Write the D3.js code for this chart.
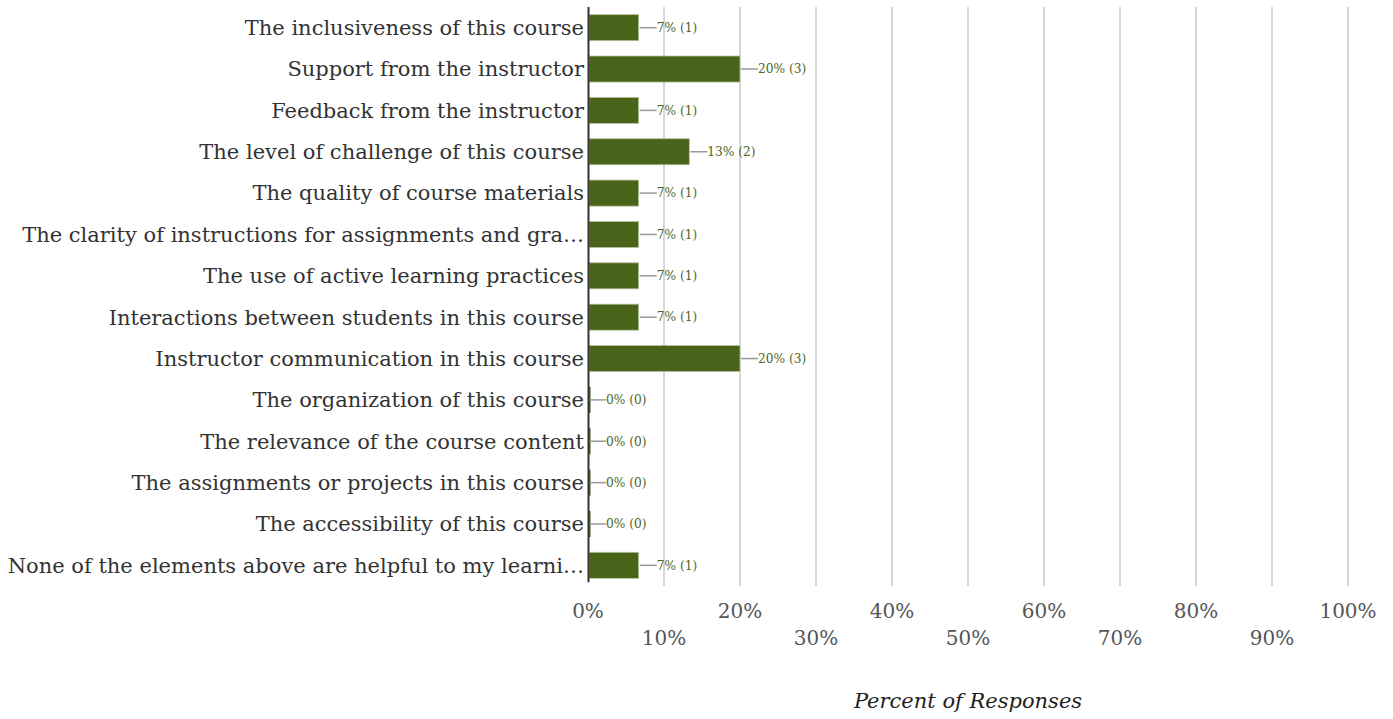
<!DOCTYPE html>
<html lang="en">
<head>
    <meta charset="UTF-8">
    <title>Percent of Responses</title>
    <script src="https://d3js.org/d3.v7.min.js"></script>
    <style>
        body { margin: 0; background: #fff; }
        text { font-family: "DejaVu Serif", serif; }
    </style>
</head>
<body>
    <div id="chart-container"></div>
    <script>
        // categories as shown (already truncated in the picture)
        const categories = [
            "The inclusiveness of this course",
            "Support from the instructor",
            "Feedback from the instructor",
            "The level of challenge of this course",
            "The quality of course materials",
            "The clarity of instructions for assignments and gra\u2026",
            "The use of active learning practices",
            "Interactions between students in this course",
            "Instructor communication in this course",
            "The organization of this course",
            "The relevance of the course content",
            "The assignments or projects in this course",
            "The accessibility of this course",
            "None of the elements above are helpful to my learni\u2026"
        ];
        const counts = [1, 3, 1, 2, 1, 1, 1, 1, 3, 0, 0, 0, 0, 1];
        const totalResponses = 15;
        const xTicks = [0, 10, 20, 30, 40, 50, 60, 70, 80, 90, 100];

        const data = categories.map((c, i) => ({
            label: c,
            count: counts[i],
            pct: counts[i] / totalResponses * 100
        }));

        const containerWidth = 1393;
        const containerHeight = 719;
        const margins = { top: 7, right: 45, bottom: 133, left: 588 };
        const width = containerWidth - margins.left - margins.right;
        const height = containerHeight - margins.top - margins.bottom;

        const svg = d3.select("#chart-container")
            .append("svg")
            .attr("width", containerWidth)
            .attr("height", containerHeight)
            .append("g")
            .attr("transform", `translate(${margins.left},${margins.top})`);

        const x = d3.scaleLinear().domain([0, 100]).range([0, 760]);
        const y = d3.scaleBand()
            .domain(categories)
            .range([0, height])
            .paddingInner(0.37)
            .paddingOuter(0.185);

        // gridlines
        svg.append("g")
            .selectAll("line")
            .data(xTicks.slice(1))
            .join("line")
            .attr("x1", d => x(d))
            .attr("x2", d => x(d))
            .attr("y1", 0)
            .attr("y2", height)
            .attr("stroke", "#c8c8c8")
            .attr("stroke-width", 1.5);

        // x tick labels, alternating rows
        svg.append("g")
            .selectAll("text")
            .data(xTicks)
            .join("text")
            .attr("x", d => x(d))
            .attr("y", (d, i) => height + (i % 2 === 0 ? 32 : 59))
            .attr("text-anchor", "middle")
            .attr("fill", "#555")
            .attr("font-size", "20px")
            .text(d => d + "%");

        // category labels
        svg.append("g")
            .selectAll("text")
            .data(categories)
            .join("text")
            .attr("x", -4)
            .attr("y", d => y(d) + y.bandwidth() / 2)
            .attr("dy", "0.35em")
            .attr("text-anchor", "end")
            .attr("fill", "#333")
            .attr("font-size", "21px")
            .text(d => d);

        // bars
        svg.append("g")
            .selectAll("rect")
            .data(data)
            .join("rect")
            .attr("x", 1)
            .attr("y", d => y(d.label))
            .attr("width", d => Math.max(x(d.pct) - 1, 1.5))
            .attr("height", y.bandwidth())
            .attr("fill", "#4a631b")
            .attr("stroke", "#b9c59e")
            .attr("stroke-width", d => d.count ? 0.8 : 0);

        // leader lines + value labels
        const lab = svg.append("g").selectAll("g")
            .data(data)
            .join("g")
            .attr("transform", d => `translate(${x(d.pct)},${y(d.label) + y.bandwidth() / 2})`);

        lab.append("line")
            .attr("x1", 1)
            .attr("x2", 18)
            .attr("stroke", "#999")
            .attr("stroke-width", 1.5);

        lab.append("text")
            .attr("x", 18)
            .attr("dy", "0.35em")
            .attr("fill", "#4f6526")
            .attr("font-size", "12.2px")
            .text(d => `${Math.round(d.pct)}% (${d.count})`);

        // y axis line
        svg.append("line")
            .attr("x1", 0.5)
            .attr("x2", 0.5)
            .attr("y1", 0)
            .attr("y2", y(categories[categories.length - 1]) + y.bandwidth() + 4)
            .attr("stroke", "#333")
            .attr("stroke-width", 2);

        // axis title
        svg.append("text")
            .attr("x", x(50))
            .attr("y", 708 - margins.top)
            .attr("text-anchor", "middle")
            .attr("font-style", "italic")
            .attr("font-size", "21px")
            .attr("fill", "#222")
            .text("Percent of Responses");
    </script>
</body>
</html>
